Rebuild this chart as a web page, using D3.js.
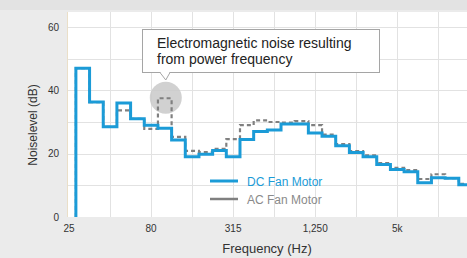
<!DOCTYPE html>
<html>
<head>
<meta charset="utf-8">
<script src="https://cdn.jsdelivr.net/npm/d3@7"></script>
<style>
  html, body { margin: 0; padding: 0; background: #ebebeb; }
  svg { display: block; font-family: "Liberation Sans", Arial, sans-serif; }
</style>
</head>
<body>
<svg id="chart" width="467" height="258"></svg>
<script>
// 1/3-octave bands, starting at 25 Hz
var bands = ["25","31.5","40","50","63","80","100","125","160","200","250","315","400","500",
  "630","800","1k","1.25k","1.6k","2k","2.5k","3.15k","4k","5k","6.3k","8k","10k","12.5k","16k"];
var dcLevels = [47, 36.3, 28.5, 36, 31, 29, 28, 24.3, 19, 19.8, 21, 19, 24.5, 27,
  27.5, 29.4, 29.4, 26.5, 25.5, 22.5, 20.4, 19, 16.6, 15, 14.3, 10.8, 12.4, 12.2, 10.2];
var acLevels = [47, 36.3, 28.5, 33.7, 31, 27.8, 37.5, 25.3, 20.9, 20.5, 21.5, 24.6, 29, 30.5,
  30, 29.8, 30.3, 29, 26, 23, 20.8, 19.5, 17, 15.5, 14.8, 12, 13.5, 12.3, 10.5];
var tickLabels = ["25", "80", "315", "1,250", "5k"];
var tickBands = [-1, 5, 11, 17, 23];   // band index each label sits on
var yTicks = [0, 20, 40, 60];
var series = [
  {name: "AC Fan Motor", values: acLevels, color: "#808080", text: "#8a8a8a"},
  {name: "DC Fan Motor", values: dcLevels, color: "#1b9bd7", text: "#1b9bd7"}
];
var note = ["Electromagnetic noise resulting", "from power frequency"];
var noteBand = 6, noteLevel = 37.5;

var svg = d3.select("#chart");
var W = 467, H = 258;
var plot = {left: 67, top: 12, right: 467, bottom: 217};

var x = d3.scaleLinear().domain([-1.15, 28.1]).range([plot.left, plot.right]);
var y = d3.scaleLinear().domain([0, 60]).range([217, 27]);

svg.append("rect").attr("width", W).attr("height", 10).attr("fill", "#e3e3e3");
svg.append("rect")
  .attr("x", plot.left).attr("y", plot.top)
  .attr("width", plot.right - plot.left).attr("height", plot.bottom - plot.top)
  .attr("fill", "#fff");

// grid
var grid = svg.append("g").attr("stroke", "#e2e2e2").attr("stroke-width", 1);
grid.selectAll(".h").data(d3.range(10, 70, 10)).enter().append("line")
  .attr("x1", plot.left).attr("x2", plot.right)
  .attr("y1", function(d) { return Math.round(y(d)) + 0.5; })
  .attr("y2", function(d) { return Math.round(y(d)) + 0.5; });
grid.selectAll(".v").data(d3.range(2, 29, 3)).enter().append("line")
  .attr("y1", plot.top).attr("y2", plot.bottom)
  .attr("x1", function(d) { return Math.round(x(d)) + 0.5; })
  .attr("x2", function(d) { return Math.round(x(d)) + 0.5; });
svg.append("line").attr("x1", plot.left + 0.5).attr("x2", plot.left + 0.5)
  .attr("y1", plot.top).attr("y2", plot.bottom).attr("stroke", "#eadfc8");

// highlight circle behind the lines
svg.append("circle")
  .attr("cx", x(noteBand) + 1).attr("cy", y(noteLevel) - 0.5).attr("r", 16)
  .attr("fill", "#c9c9c9").attr("opacity", 0.85);

svg.append("defs").append("clipPath").attr("id", "clip")
  .append("rect").attr("x", plot.left).attr("y", plot.top)
  .attr("width", plot.right - plot.left).attr("height", plot.bottom - plot.top + 2);

var line = d3.line()
  .x(function(d) { return x(d[0]); })
  .y(function(d) { return y(d[1]); })
  .curve(d3.curveStepAfter);

function stepPoints(vals) {
  var pts = [[-0.5, 0]];
  vals.forEach(function(v, i) { pts.push([i - 0.5, v]); });
  pts.push([vals.length - 0.5, vals[vals.length - 1]]);
  return pts;
}

var lines = svg.append("g").attr("clip-path", "url(#clip)");
lines.append("path")
  .attr("d", line(stepPoints(acLevels)))
  .attr("fill", "none").attr("stroke", series[0].color)
  .attr("stroke-width", 2.2).attr("stroke-dasharray", "4,3");
lines.append("path")
  .attr("d", line(stepPoints(dcLevels)))
  .attr("fill", "none").attr("stroke", series[1].color)
  .attr("stroke-width", 3).attr("stroke-linejoin", "miter");

// axes labels
svg.append("g").selectAll("text").data(yTicks).enter().append("text")
  .attr("x", 59).attr("y", function(d) { return y(d) + 3.5; })
  .attr("text-anchor", "end").attr("font-size", 10).attr("fill", "#333")
  .text(function(d) { return d; });
svg.append("g").selectAll("text").data(tickLabels).enter().append("text")
  .attr("x", function(d, i) { return x(tickBands[i]); }).attr("y", 232)
  .attr("text-anchor", "middle").attr("font-size", 10).attr("fill", "#333")
  .text(function(d) { return d; });
svg.append("text")
  .attr("transform", "translate(37," + 125 + ") rotate(-90)")
  .attr("text-anchor", "middle").attr("font-size", 12).attr("fill", "#333")
  .text("Noiselevel (dB)");
svg.append("text")
  .attr("x", 267).attr("y", 253)
  .attr("text-anchor", "middle").attr("font-size", 13).attr("fill", "#333")
  .text("Frequency (Hz)");

// legend
var legend = svg.append("g").selectAll("g").data(series.slice().reverse()).enter().append("g")
  .attr("transform", function(d, i) { return "translate(210," + (181 + i * 18) + ")"; });
legend.append("line").attr("x1", 0).attr("x2", 28)
  .attr("stroke", function(d) { return d.color; })
  .attr("stroke-width", function(d, i) { return i === 0 ? 3 : 2.5; });
legend.append("text").attr("x", 37).attr("y", 4.5)
  .attr("font-size", 12).attr("fill", function(d) { return d.text; })
  .text(function(d) { return d.name; });

// callout
var callout = svg.append("g");
callout.append("rect")
  .attr("x", 142.5).attr("y", 29.5).attr("width", 237).attr("height", 43)
  .attr("fill", "#fff").attr("stroke", "#a5a5a5");
callout.append("path")
  .attr("d", "M160," + 72.5 + " L" + (x(noteBand) + 1) + "," + 80 + " L170," + 72.5)
  .attr("fill", "#fff").attr("stroke", "#a5a5a5");
callout.append("line").attr("x1", 161).attr("x2", 169).attr("y1", 72.5).attr("y2", 72.5)
  .attr("stroke", "#fff").attr("stroke-width", 1.5);
callout.selectAll("text").data(note).enter().append("text")
  .attr("x", 157).attr("y", function(d, i) { return 47.5 + i * 16.5; })
  .attr("font-size", 14).attr("fill", "#222")
  .text(function(d) { return d; });
</script>
</body>
</html>
